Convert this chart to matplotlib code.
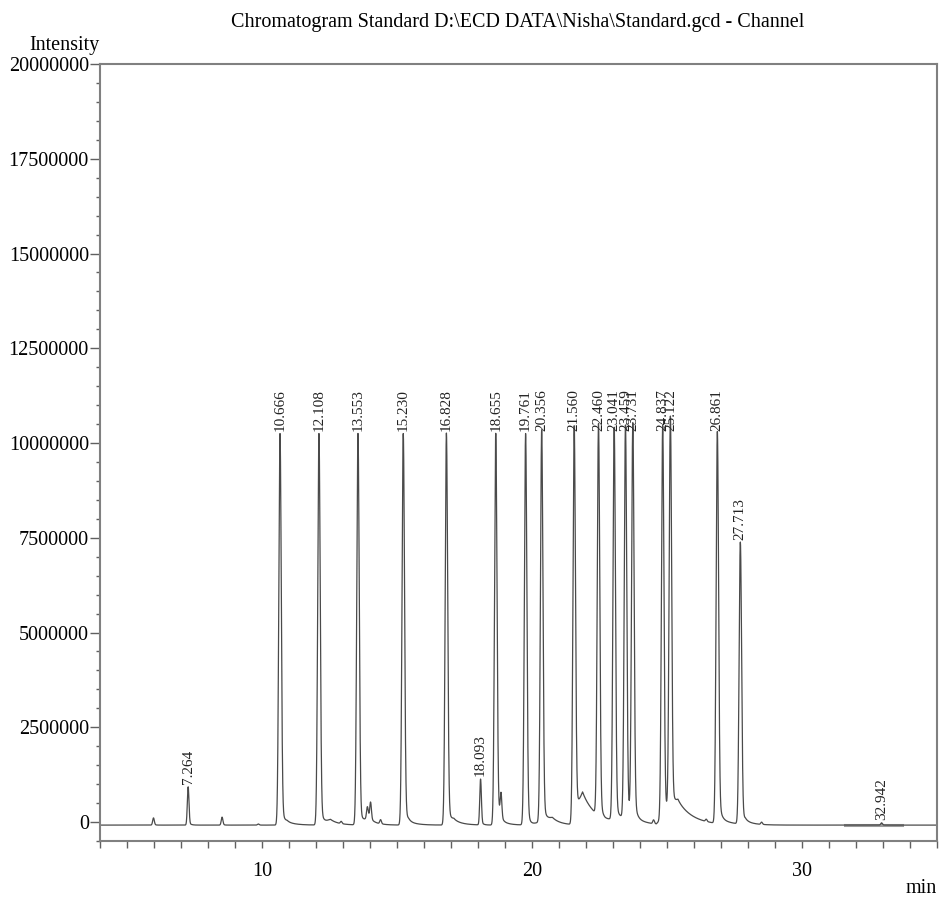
import numpy as np
import matplotlib.pyplot as plt
from matplotlib.ticker import MultipleLocator, FixedLocator

plt.rcParams['font.family'] = ['Liberation Serif', 'DejaVu Serif']

# labelled peaks: retention time (min) and apex height above baseline
peak_rt = [7.264, 10.666, 12.108, 13.553, 15.230, 16.828, 18.093, 18.655,
           19.761, 20.356, 21.560, 22.460, 23.041, 23.459, 23.731, 24.837,
           25.122, 26.861, 27.713, 32.942]
peak_height = [1010000, 10330000, 10330000, 10330000, 10330000, 10330000,
               1210000, 10330000, 10330000, 10330000, 10330000, 10330000,
               10330000, 10330000, 10330000, 10330000, 10330000, 10330000,
               7440000, 60000]

# small unlabelled peaks
minor_rt = [5.98, 8.52, 9.86, 12.93, 13.90, 14.02, 14.39, 18.85, 24.50,
            26.45, 28.50]
minor_height = [190000, 210000, 30000, 60000, 300000, 450000, 110000,
                650000, 100000, 60000, 60000]

# broad humps / tails under the peaks: apex time, height, rise, decay
hump_rt = [10.93, 12.53, 13.95, 15.43, 17.10, 18.80, 20.75, 21.87, 23.70,
           25.40, 27.00, 27.90]
hump_height = [90000, 150000, 200000, 100000, 150000, 150000, 200000,
               850000, 250000, 650000, 120000, 100000]
hump_rise = [0.25, 0.40, 0.35, 0.20, 0.30, 0.15, 0.80, 0.40, 1.00, 0.80,
             0.15, 0.15]
hump_decay = [0.30, 0.30, 0.25, 0.30, 0.30, 0.25, 0.30, 0.50, 0.40, 0.55,
              0.40, 0.30]

baseline = -80000
y_label_step = 2500000

t = np.linspace(4, 35, 10000)
signal = np.full_like(t, baseline, dtype=float)


def peak(t, rt, h, sigma, tail_frac, tau):
    g = h * np.exp(-0.5 * ((t - rt) / sigma) ** 2)
    tail = np.where(t > rt, tail_frac * h * np.exp(-(t - rt) / tau), 0.0)
    tail *= 1 - np.exp(-0.5 * ((t - rt) / sigma) ** 2)
    return g + tail


def hump(t, rt, h, rise, decay):
    up = np.clip((t - (rt - rise)) / rise, 0, 1)
    down = np.exp(-np.clip(t - rt, 0, None) / decay)
    return h * np.where(t <= rt, up, down)


for rt, h in zip(peak_rt, peak_height):
    big = h > 5000000
    if big:
        signal += peak(t, rt, h, 0.045, 0.1, 0.08)
    else:
        signal += peak(t, rt, h, 0.03, 0.1, 0.07)
for rt, h in zip(minor_rt, minor_height):
    signal += peak(t, rt, h, 0.03, 0.15, 0.05)
for rt, h, r, d in zip(hump_rt, hump_height, hump_rise, hump_decay):
    signal += hump(t, rt, h, r, d)

fig = plt.figure(figsize=(9.39, 9.05), dpi=100)
ax = fig.add_axes([0.1065, 0.0707, 0.8915, 0.8586])

ax.plot(t, signal, color='#4a4a4a', lw=0.9)
# integration baseline drawn under the last peak
ax.plot([31.6, 33.7], [baseline, baseline], color='#9a9a9a', lw=2.2,
        zorder=1)

for rt, h in zip(peak_rt, peak_height):
    ax.annotate('%.3f' % rt, xy=(rt, h + baseline), xytext=(0, 2),
                textcoords='offset points', rotation=90, ha='center',
                va='bottom', fontsize=11, color='#222222')

ax.set_xlim(4, 35)
ax.set_ylim(-500000, 20000000)
ax.xaxis.set_major_locator(FixedLocator([10, 20, 30]))
ax.xaxis.set_minor_locator(MultipleLocator(1))
ax.yaxis.set_major_locator(MultipleLocator(y_label_step))
ax.yaxis.set_minor_locator(MultipleLocator(500000))
ax.yaxis.set_major_formatter(lambda v, pos: '%d' % v)

for s in ax.spines.values():
    s.set_color('#808080')
    s.set_linewidth(1.5)
ax.tick_params(axis='x', which='both', direction='out', length=5,
               width=1, color='#606060', pad=10, labelsize=14.5)
ax.tick_params(axis='y', which='major', direction='out', length=7,
               width=1, color='#606060', pad=1, labelsize=14.5)
ax.tick_params(axis='y', which='minor', direction='out', length=3,
               width=1, color='#606060')

fig.text(0.551, 0.975, r'Chromatogram Standard D:\ECD DATA\Nisha\Standard.gcd - Channel',
         ha='center', va='center', fontsize=14.5)
fig.text(0.106, 0.950, 'Intensity', ha='right', va='center', fontsize=14.5)
fig.text(0.998, 0.008, 'min', ha='right', va='bottom', fontsize=14.5)

fig.savefig('out.png', dpi=100)
